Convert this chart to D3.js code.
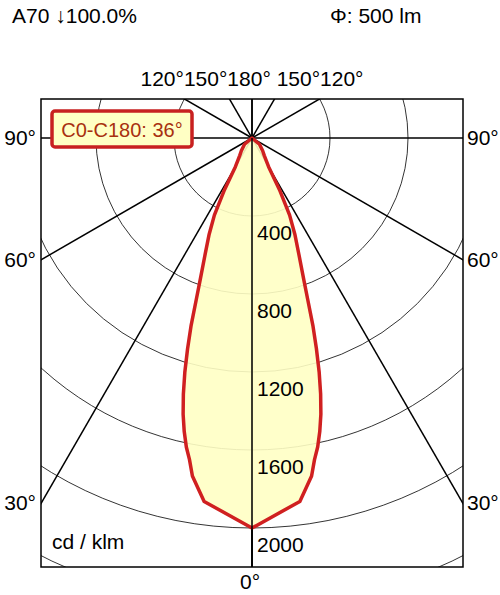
<!DOCTYPE html><html><head><meta charset="utf-8">
<script src="https://cdn.jsdelivr.net/npm/d3@7"></script>
<style>body{margin:0;background:#fff}text{font-family:"Liberation Sans",Arial,sans-serif}</style></head><body>
<script>
const gammas=[0,7.5,10,11,12,13,14,15,16,17,18,19,20,22,24,26,28,30,35,40,50,90];
const intensity=[2000,1880,1760,1680,1620,1545,1460,1360,1250,1130,1010,880,780,640,540,440,300,170,110,85,50,0];
const rings=[400,800,1200,1600,2000,2400];
const ringLabels=[400,800,1200,1600,2000];
const spokes=[0,30,60,90,120,150,180];
const title="A70 ↓100.0%", flux="Φ: 500 lm", unit="cd / klm", plane="C0-C180: 36°";

const W=500,H=595,cx=252,cy=138,box={x0:41,x1:463,y0:99,y1:567};
const r=d3.scaleLinear().domain([0,2000]).range([0,390]);
const svg=d3.select("body").append("svg").attr("width",W).attr("height",H);
svg.append("defs").append("clipPath").attr("id","c").append("rect")
 .attr("x",box.x0).attr("y",box.y0).attr("width",box.x1-box.x0).attr("height",box.y1-box.y0);
const g=svg.append("g").attr("clip-path","url(#c)");
g.selectAll("circle").data(rings).join("circle").attr("cx",cx).attr("cy",cy).attr("r",d=>r(d))
 .attr("fill","none").attr("stroke","#000").attr("stroke-width",0.8);
const L=800;
spokes.forEach(a=>{[-1,1].forEach(s=>{const t=a*Math.PI/180;
 g.append("line").attr("x1",cx).attr("y1",cy).attr("x2",cx+s*L*Math.sin(t)).attr("y2",cy+L*Math.cos(t))
 .attr("stroke","#000").attr("stroke-width",1.5);});});
const pts=gammas.map((a,i)=>[a,intensity[i]]);
const full=pts.slice().reverse().map(p=>[-p[0],p[1]]).concat(pts.slice(1));
const line=d3.line().x(p=>cx+r(p[1])*Math.sin(p[0]*Math.PI/180)).y(p=>cy+r(p[1])*Math.cos(p[0]*Math.PI/180)).curve(d3.curveLinear);
g.append("path").attr("d",line(full)+"Z").attr("fill","#ffffc4").attr("fill-opacity",0.9).attr("stroke","#d02020").attr("stroke-width",3.5).attr("stroke-linejoin","round");
g.append("line").attr("x1",cx).attr("y1",cy).attr("x2",cx).attr("y2",box.y1).attr("stroke","#000").attr("stroke-width",1.5);
svg.append("rect").attr("x",box.x0).attr("y",box.y0).attr("width",box.x1-box.x0).attr("height",box.y1-box.y0)
 .attr("fill","none").attr("stroke","#000").attr("stroke-width",1.5);
const fs=21;
const T=(x,y,s,a)=>svg.append("text").attr("x",x).attr("y",y).attr("font-size",fs).attr("text-anchor",a||"start").text(s);
ringLabels.forEach(v=>T(257,cy+r(v)+24,v));
[90,60,30].forEach(a=>{const dy=(cx-box.x0)/Math.tan(a*Math.PI/180);const y=cy+(a==90?0:dy)+7;
 T(box.x0-5,y,a+"°","end");T(box.x1+4,y,a+"°","start");});
T(252,86,"120°150°180° 150°120°","middle");
T(250,589,"0°","middle");
T(12,23,title);T(330,23,flux);T(52,549,unit);
svg.append("rect").attr("x",52).attr("y",111).attr("width",140).attr("height",36).attr("rx",3)
 .attr("fill","#ffffc4").attr("stroke","#c82020").attr("stroke-width",3.5);
svg.append("text").attr("x",122).attr("y",137).attr("font-size",20).attr("text-anchor","middle").attr("fill","#a83010").text(plane);
</script></body></html>
